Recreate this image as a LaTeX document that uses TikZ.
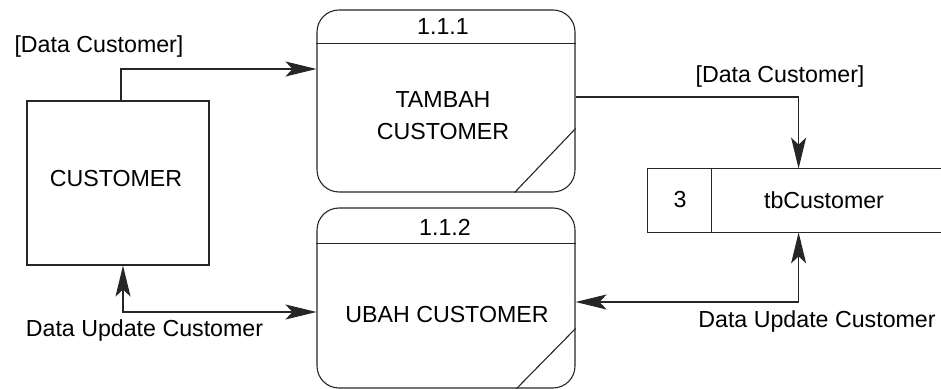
\documentclass[tikz,border=0pt]{standalone}
\usepackage{fontspec}
\setmainfont{Liberation Sans}
\usetikzlibrary{arrows.meta}
\begin{document}
\begin{tikzpicture}[x=0.5pt,y=-0.5pt,
  line/.style={draw=black!85,line width=0.55pt},
  txt/.style={font=\fontsize{11.6}{16}\selectfont,inner sep=0pt,align=center},
  entity/.style={line,rectangle,minimum width=91pt,minimum height=82pt,inner sep=0pt},
  process/.style={line,rectangle,rounded corners=11pt,minimum width=129pt,inner sep=0pt},
  storebox/.style={rectangle,minimum width=146.5pt,minimum height=31.5pt,inner sep=0pt},
  flow/.style={line,-{Stealth[length=15.5pt,width=7.5pt,inset=3.5pt]}},
  flow2/.style={line,{Stealth[length=15.5pt,width=7.5pt,inset=3.5pt]}-{Stealth[length=15.5pt,width=7.5pt,inset=3.5pt]}}]
\useasboundingbox (0,0) rectangle (941,389);

% external entity
\node[entity] (cust) at (118,183) {};
\node[txt] (custlbl) at (116,179) {CUSTOMER};

% process 1.1.1
\node[process,minimum height=91pt] (p1) at (446,101) {};
\draw[line] ([yshift=-17pt]p1.north west) -- ([yshift=-17pt]p1.north east);
\draw[line] ([xshift=-30.5pt]p1.south east) -- ([yshift=32pt]p1.south east);
\node[txt] (p1id) at (443,27) {1.1.1};
\node[txt] (p1name) at (443,116) {TAMBAH\\CUSTOMER};

% process 1.1.2
\node[process,minimum height=90pt] (p2) at (446,298) {};
\draw[line] ([yshift=-18pt]p2.north west) -- ([yshift=-18pt]p2.north east);
\draw[line] ([xshift=-29.5pt]p2.south east) -- ([yshift=30pt]p2.south east);
\node[txt] (p2id) at (445,227) {1.1.2};
\node[txt] (p2name) at (447,315) {UBAH CUSTOMER};

% data store 3
\node[storebox] (store) at (794.5,200.5) {};
\draw[line] (store.north east) -- (store.north west) -- (store.south west) -- (store.south east);
\draw[line] ([xshift=32pt]store.north west) -- ([xshift=32pt]store.south west);
\node[txt] (storeid) at (680,200) {3};
\node[txt] (storename) at (824,200) {tbCustomer};

% data flows
\draw[flow] ([xshift=1.5pt]cust.north) |- ([yshift=16pt]p1.west);
\draw[flow] ([yshift=2pt]p1.east) -| ([xshift=75.5pt]store.north west);
\draw[flow2] ([xshift=2.5pt]cust.south) |- ([yshift=-7pt]p2.west);
\draw[flow2] ([xshift=75.5pt]store.south west) |- ([yshift=-2pt]p2.east);

% flow labels
\node[txt] (f1) at (99,47) {[Data Customer]};
\node[txt] (f2) at (780,77) {[Data Customer]};
\node[txt] (f3) at (144.5,331) {Data Update Customer};
\node[txt] (f4) at (817,322) {Data Update Customer};
\end{tikzpicture}
\end{document}
